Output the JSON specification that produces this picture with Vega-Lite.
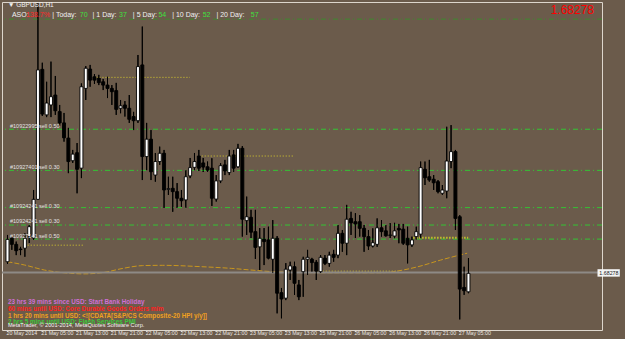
{
"$schema":"https://vega.github.io/schema/vega-lite/v6.json",
"width":600,"height":328,
"autosize":{"type":"none"},
"padding":{"left":2,"top":2,"right":23,"bottom":9},
"background":"#6b5b4b",
"config":{"view":{"stroke":"#ddd6cc","strokeWidth":1,"fill":"#6b5b4b"},"text":{"font":"Liberation Sans"}},
"datasets":{
"candles":[
{"n":1,"o":1.68317,"h":1.68414,"l":1.68309,"c":1.68398},
{"n":2,"o":1.68402,"h":1.68410,"l":1.68360,"c":1.68380},
{"n":3,"o":1.68380,"h":1.68390,"l":1.68341,"c":1.68357},
{"n":4,"o":1.68363,"h":1.68371,"l":1.68341,"c":1.68361},
{"n":5,"o":1.68366,"h":1.68420,"l":1.68335,"c":1.68402},
{"n":6,"o":1.68408,"h":1.68450,"l":1.68385,"c":1.68444},
{"n":7,"o":1.68403,"h":1.68577,"l":1.68396,"c":1.68543},
{"n":8,"o":1.68543,"h":1.69254,"l":1.68541,"c":1.69012},
{"n":9,"o":1.69014,"h":1.69038,"l":1.68845,"c":1.68852},
{"n":10,"o":1.68849,"h":1.68969,"l":1.68841,"c":1.68892},
{"n":11,"o":1.68885,"h":1.69042,"l":1.68841,"c":1.68915},
{"n":12,"o":1.68921,"h":1.68990,"l":1.68849,"c":1.68864},
{"n":13,"o":1.68861,"h":1.68885,"l":1.68809,"c":1.68820},
{"n":14,"o":1.68820,"h":1.68856,"l":1.68752,"c":1.68766},
{"n":15,"o":1.68765,"h":1.68802,"l":1.68638,"c":1.68680},
{"n":16,"o":1.68683,"h":1.68722,"l":1.68675,"c":1.68707},
{"n":17,"o":1.68712,"h":1.68747,"l":1.68565,"c":1.68652},
{"n":18,"o":1.68656,"h":1.68963,"l":1.68620,"c":1.68951},
{"n":19,"o":1.68945,"h":1.69026,"l":1.68903,"c":1.69018},
{"n":20,"o":1.69015,"h":1.69030,"l":1.68951,"c":1.68975},
{"n":21,"o":1.68987,"h":1.68997,"l":1.68961,"c":1.68975},
{"n":22,"o":1.68982,"h":1.68994,"l":1.68957,"c":1.68966},
{"n":23,"o":1.68969,"h":1.68979,"l":1.68939,"c":1.68957},
{"n":24,"o":1.68957,"h":1.68987,"l":1.68910,"c":1.68945},
{"n":25,"o":1.68945,"h":1.68957,"l":1.68885,"c":1.68933},
{"n":26,"o":1.68937,"h":1.68965,"l":1.68849,"c":1.68869},
{"n":27,"o":1.68873,"h":1.68903,"l":1.68855,"c":1.68882},
{"n":28,"o":1.68885,"h":1.68899,"l":1.68843,"c":1.68873},
{"n":29,"o":1.68873,"h":1.68921,"l":1.68820,"c":1.68833},
{"n":30,"o":1.68843,"h":1.68860,"l":1.68794,"c":1.68828},
{"n":31,"o":1.68828,"h":1.69066,"l":1.68820,"c":1.69024},
{"n":32,"o":1.69030,"h":1.69169,"l":1.68613,"c":1.68698},
{"n":33,"o":1.68698,"h":1.68820,"l":1.68649,"c":1.68761},
{"n":34,"o":1.68761,"h":1.68794,"l":1.68613,"c":1.68643},
{"n":35,"o":1.68631,"h":1.68711,"l":1.68607,"c":1.68680},
{"n":36,"o":1.68680,"h":1.68734,"l":1.68668,"c":1.68710},
{"n":37,"o":1.68710,"h":1.68722,"l":1.68512,"c":1.68577},
{"n":38,"o":1.68579,"h":1.68625,"l":1.68559,"c":1.68582},
{"n":39,"o":1.68583,"h":1.68625,"l":1.68498,"c":1.68571},
{"n":40,"o":1.68571,"h":1.68602,"l":1.68512,"c":1.68547},
{"n":41,"o":1.68547,"h":1.68577,"l":1.68516,"c":1.68538},
{"n":42,"o":1.68541,"h":1.68649,"l":1.68512,"c":1.68625},
{"n":43,"o":1.68628,"h":1.68693,"l":1.68620,"c":1.68658},
{"n":44,"o":1.68659,"h":1.68711,"l":1.68649,"c":1.68680},
{"n":45,"o":1.68700,"h":1.68722,"l":1.68646,"c":1.68656},
{"n":46,"o":1.68675,"h":1.68693,"l":1.68642,"c":1.68660},
{"n":47,"o":1.68661,"h":1.68680,"l":1.68643,"c":1.68649},
{"n":48,"o":1.68656,"h":1.68692,"l":1.68519,"c":1.68547},
{"n":49,"o":1.68544,"h":1.68631,"l":1.68535,"c":1.68610},
{"n":50,"o":1.68610,"h":1.68674,"l":1.68602,"c":1.68665},
{"n":51,"o":1.68668,"h":1.68686,"l":1.68631,"c":1.68646},
{"n":52,"o":1.68640,"h":1.68722,"l":1.68631,"c":1.68700},
{"n":53,"o":1.68704,"h":1.68722,"l":1.68643,"c":1.68656},
{"n":54,"o":1.68661,"h":1.68744,"l":1.68657,"c":1.68728},
{"n":55,"o":1.68728,"h":1.68736,"l":1.68408,"c":1.68471},
{"n":56,"o":1.68466,"h":1.68553,"l":1.68414,"c":1.68480},
{"n":57,"o":1.68478,"h":1.68505,"l":1.68403,"c":1.68424},
{"n":58,"o":1.68426,"h":1.68505,"l":1.68327,"c":1.68369},
{"n":59,"o":1.68371,"h":1.68439,"l":1.68287,"c":1.68402},
{"n":60,"o":1.68399,"h":1.68439,"l":1.68305,"c":1.68390},
{"n":61,"o":1.68396,"h":1.68444,"l":1.68326,"c":1.68330},
{"n":62,"o":1.68326,"h":1.68468,"l":1.68276,"c":1.68402},
{"n":63,"o":1.68402,"h":1.68410,"l":1.68130,"c":1.68203},
{"n":64,"o":1.68205,"h":1.68222,"l":1.68112,"c":1.68182},
{"n":65,"o":1.68185,"h":1.68312,"l":1.68178,"c":1.68290},
{"n":66,"o":1.68287,"h":1.68317,"l":1.68251,"c":1.68302},
{"n":67,"o":1.68299,"h":1.68317,"l":1.68197,"c":1.68239},
{"n":68,"o":1.68233,"h":1.68251,"l":1.68178,"c":1.68190},
{"n":69,"o":1.68281,"h":1.68335,"l":1.68190,"c":1.68326},
{"n":70,"o":1.68326,"h":1.68360,"l":1.68269,"c":1.68333},
{"n":71,"o":1.68326,"h":1.68331,"l":1.68281,"c":1.68314},
{"n":72,"o":1.68315,"h":1.68323,"l":1.68251,"c":1.68283},
{"n":73,"o":1.68281,"h":1.68341,"l":1.68276,"c":1.68333},
{"n":74,"o":1.68330,"h":1.68341,"l":1.68305,"c":1.68311},
{"n":75,"o":1.68311,"h":1.68353,"l":1.68299,"c":1.68341},
{"n":76,"o":1.68344,"h":1.68360,"l":1.68317,"c":1.68333},
{"n":77,"o":1.68341,"h":1.68450,"l":1.68330,"c":1.68420},
{"n":78,"o":1.68420,"h":1.68432,"l":1.68353,"c":1.68384},
{"n":79,"o":1.68384,"h":1.68523,"l":1.68341,"c":1.68471},
{"n":80,"o":1.68474,"h":1.68498,"l":1.68414,"c":1.68458},
{"n":81,"o":1.68462,"h":1.68493,"l":1.68403,"c":1.68454},
{"n":82,"o":1.68462,"h":1.68486,"l":1.68408,"c":1.68438},
{"n":83,"o":1.68438,"h":1.68450,"l":1.68353,"c":1.68408},
{"n":84,"o":1.68408,"h":1.68432,"l":1.68360,"c":1.68374},
{"n":85,"o":1.68374,"h":1.68438,"l":1.68369,"c":1.68386},
{"n":86,"o":1.68380,"h":1.68474,"l":1.68371,"c":1.68440},
{"n":87,"o":1.68440,"h":1.68468,"l":1.68408,"c":1.68426},
{"n":88,"o":1.68429,"h":1.68450,"l":1.68408,"c":1.68411},
{"n":89,"o":1.68412,"h":1.68457,"l":1.68403,"c":1.68414},
{"n":90,"o":1.68410,"h":1.68458,"l":1.68402,"c":1.68429},
{"n":91,"o":1.68438,"h":1.68454,"l":1.68384,"c":1.68432},
{"n":92,"o":1.68435,"h":1.68454,"l":1.68378,"c":1.68384},
{"n":93,"o":1.68402,"h":1.68444,"l":1.68311,"c":1.68378},
{"n":94,"o":1.68378,"h":1.68408,"l":1.68371,"c":1.68396},
{"n":95,"o":1.68408,"h":1.68444,"l":1.68398,"c":1.68426},
{"n":96,"o":1.68417,"h":1.68680,"l":1.68402,"c":1.68658},
{"n":97,"o":1.68652,"h":1.68680,"l":1.68595,"c":1.68621},
{"n":98,"o":1.68625,"h":1.68686,"l":1.68607,"c":1.68613},
{"n":99,"o":1.68616,"h":1.68631,"l":1.68577,"c":1.68603},
{"n":100,"o":1.68607,"h":1.68613,"l":1.68565,"c":1.68571},
{"n":101,"o":1.68565,"h":1.68595,"l":1.68559,"c":1.68577},
{"n":102,"o":1.68573,"h":1.68806,"l":1.68547,"c":1.68682},
{"n":103,"o":1.68680,"h":1.68812,"l":1.68656,"c":1.68716},
{"n":104,"o":1.68716,"h":1.68722,"l":1.68432,"c":1.68474},
{"n":105,"o":1.68480,"h":1.68486,"l":1.68108,"c":1.68218},
{"n":106,"o":1.68224,"h":1.68299,"l":1.68197,"c":1.68212},
{"n":107,"o":1.68208,"h":1.68330,"l":1.68203,"c":1.68275}
],
"levels":[{"price":1.68797},{"price":1.68648},{"price":1.68513},{"price":1.68450},{"price":1.68399}],
"orders":[
{"t":"#10922995 sell 0.50","price":1.68810},
{"t":"#10927401 sell 0.30","price":1.68659},
{"t":"#10924241 sell 0.30","price":1.68520},
{"t":"#10924241 sell 0.30","price":1.68464},
{"t":"#10927141 sell 0.50","price":1.68410}
],
"ticks":[
{"n":1,"lab":"20 May 2014"},{"n":9,"lab":"21 May 05:00"},{"n":17,"lab":"21 May 13:00"},{"n":25,"lab":"21 May 21:00"},{"n":33,"lab":"22 May 05:00"},
{"n":41,"lab":"22 May 13:00"},{"n":49,"lab":"22 May 21:00"},{"n":57,"lab":"23 May 05:00"},{"n":65,"lab":"23 May 13:00"},{"n":73,"lab":"25 May 21:00"},
{"n":81,"lab":"26 May 05:00"},{"n":89,"lab":"26 May 13:00"},{"n":97,"lab":"26 May 21:00"},{"n":105,"lab":"27 May 05:00"}
],
"segs":[{"a":21.46,"b":42.94,"price":1.68985},{"a":45.66,"b":66.91,"price":1.68700},{"a":4.96,"b":18.52,"price":1.68377},{"a":72.11,"b":90.88,"price":1.68283}],
"ma":[{"n":1,"v":1.68317},{"n":4.96,"v":1.68305},{"n":9.48,"v":1.68287},{"n":15.52,"v":1.68275},{"n":18.52,"v":1.68273},{"n":23.05,"v":1.68278},{"n":27.57,"v":1.68293},{"n":32.09,"v":1.68303},{"n":36.61,"v":1.68304},{"n":45.66,"v":1.68299},{"n":52.44,"v":1.68293},{"n":56.96,"v":1.68287},{"n":62.16,"v":1.68281},{"n":75.05,"v":1.68277},{"n":87.03,"v":1.68277},{"n":90.88,"v":1.68284},{"n":95.4,"v":1.68299},{"n":100.6,"v":1.68323},{"n":106.7,"v":1.68348}]
},
"layer":[
{"data":{"name":"candles"},"mark":{"type":"rule","color":"#000000","strokeWidth":1},
 "encoding":{
  "x":{"field":"n","type":"quantitative","scale":{"domain":[0.887,136.557],"nice":false,"zero":false},"axis":null},
  "y":{"field":"l","type":"quantitative","scale":{"domain":[1.680697,1.69258],"nice":false,"zero":false},
   "axis":{"orient":"right","values":[1.69195,1.69125,1.69055,1.68985,1.68915,1.68845,1.68775,1.68705,1.6864,1.6857,1.685,1.6843,1.6836,1.6822,1.6815,1.6808],
    "format":".5f","labelFontSize":5.3,"labelFont":"Liberation Sans","labelColor":"#ece8e4","tickSize":2,"tickColor":"#ddd6cc","labelPadding":1,
    "domain":false,"grid":false,"title":null,"labelOverlap":false,"labelFlush":false}},
  "y2":{"field":"h"}}},
{"data":{"values":[{"price":1.69196}]},"mark":{"type":"rule","color":"#3f8a2f","strokeWidth":1,"strokeDash":[5,3,1,3]},
 "encoding":{"y":{"field":"price","type":"quantitative","axis":null}}},
{"data":{"name":"levels"},"mark":{"type":"rule","color":"#34c434","strokeWidth":1,"strokeDash":[5,3,1,3]},
 "encoding":{"y":{"field":"price","type":"quantitative","axis":null}}},
{"data":{"name":"segs"},"mark":{"type":"rule","color":"#d9cc2c","strokeWidth":1,"strokeDash":[1,2]},
 "encoding":{"x":{"field":"a","type":"quantitative","axis":null},"x2":{"field":"b"},"y":{"field":"price","type":"quantitative","axis":null}}},
{"data":{"values":[{"a":94.27,"b":106.93,"price":1.68404}]},"mark":{"type":"rule","color":"#c6c22a","strokeWidth":2,"strokeDash":[1.5,1.5]},
 "encoding":{"x":{"field":"a","type":"quantitative","axis":null},"x2":{"field":"b"},"y":{"field":"price","type":"quantitative","axis":null}}},
{"data":{"name":"ma"},"mark":{"type":"line","color":"#c8961e","strokeWidth":1,"strokeDash":[5,2],"interpolate":"monotone"},
 "encoding":{"x":{"field":"n","type":"quantitative","axis":null},"y":{"field":"v","type":"quantitative","axis":null}}},
{"data":{"values":[{"price":1.68278}]},"mark":{"type":"rule","color":"#8e8a86","strokeWidth":2},
 "encoding":{"y":{"field":"price","type":"quantitative","axis":null}}},
{"data":{"name":"candles"},"mark":{"type":"rule","color":"#000000","strokeWidth":1},
 "encoding":{"x":{"field":"n","type":"quantitative","axis":null},"y":{"field":"l","type":"quantitative","axis":null},"y2":{"field":"h"}}},
{"data":{"name":"candles"},"mark":{"type":"bar","size":3,"stroke":"#000000","strokeWidth":0.9},
 "encoding":{"x":{"field":"n","type":"quantitative","axis":null},"y":{"field":"o","type":"quantitative","axis":null},"y2":{"field":"c"},
  "fill":{"condition":{"test":"datum.c > datum.o","value":"#ffffff"},"value":"#000000"}}},
{"data":{"name":"ticks"},"mark":{"type":"rule","clip":false,"color":"#ddd6cc","strokeWidth":1},
 "encoding":{"x":{"field":"n","type":"quantitative","axis":null},"y":{"datum":1.680697,"axis":null},"y2":{"datum":1.68062}}},
{"data":{"name":"ticks"},"mark":{"type":"text","clip":false,"align":"left","baseline":"middle","fontSize":5.3,"dx":-1,"color":"#ece8e4"},
 "encoding":{"x":{"field":"n","type":"quantitative","axis":null},"y":{"datum":1.68058,"axis":null},"text":{"field":"lab"}}},
{"data":{"name":"orders"},"mark":{"type":"text","align":"left","baseline":"middle","fontSize":5.5,"color":"#e4e4e4"},
 "encoding":{"x":{"datum":1.57,"axis":null},"y":{"field":"price","type":"quantitative","axis":null},"text":{"field":"t"}}},
{"data":{"values":[{"t":"▼ GBPUSD,H1"}]},"mark":{"type":"text","align":"left","baseline":"middle","fontSize":6.5,"color":"#f0f0f0"},
 "encoding":{"x":{"datum":1.1,"axis":null},"y":{"datum":1.69247,"axis":null},"text":{"field":"t"}}},
{"data":{"values":[{"t":"ASO:"}]},"mark":{"type":"text","align":"left","baseline":"middle","fontSize":7,"color":"#f0f0f0"},
 "encoding":{"x":{"datum":2.02,"axis":null},"y":{"datum":1.69212,"axis":null},"text":{"field":"t"}}},
{"data":{"values":[{"t":"138.7%"}]},"mark":{"type":"text","align":"left","baseline":"middle","fontSize":7,"color":"#ff2a2a"},
 "encoding":{"x":{"datum":5.3,"axis":null},"y":{"datum":1.69212,"axis":null},"text":{"field":"t"}}},
{"data":{"values":[{"t":"| Today:"}]},"mark":{"type":"text","align":"left","baseline":"middle","fontSize":7,"color":"#f0f0f0"},
 "encoding":{"x":{"datum":11.29,"axis":null},"y":{"datum":1.69212,"axis":null},"text":{"field":"t"}}},
{"data":{"values":[{"t":"70"}]},"mark":{"type":"text","align":"left","baseline":"middle","fontSize":7,"color":"#3ee03e"},
 "encoding":{"x":{"datum":17.62,"axis":null},"y":{"datum":1.69212,"axis":null},"text":{"field":"t"}}},
{"data":{"values":[{"t":"| 1 Day:"}]},"mark":{"type":"text","align":"left","baseline":"middle","fontSize":7,"color":"#f0f0f0"},
 "encoding":{"x":{"datum":20.56,"axis":null},"y":{"datum":1.69212,"axis":null},"text":{"field":"t"}}},
{"data":{"values":[{"t":"37"}]},"mark":{"type":"text","align":"left","baseline":"middle","fontSize":7,"color":"#3ee03e"},
 "encoding":{"x":{"datum":26.66,"axis":null},"y":{"datum":1.69212,"axis":null},"text":{"field":"t"}}},
{"data":{"values":[{"t":"| 5 Day:"}]},"mark":{"type":"text","align":"left","baseline":"middle","fontSize":7,"color":"#f0f0f0"},
 "encoding":{"x":{"datum":29.83,"axis":null},"y":{"datum":1.69212,"axis":null},"text":{"field":"t"}}},
{"data":{"values":[{"t":"54"}]},"mark":{"type":"text","align":"left","baseline":"middle","fontSize":7,"color":"#3ee03e"},
 "encoding":{"x":{"datum":35.71,"axis":null},"y":{"datum":1.69212,"axis":null},"text":{"field":"t"}}},
{"data":{"values":[{"t":"| 10 Day:"}]},"mark":{"type":"text","align":"left","baseline":"middle","fontSize":7,"color":"#f0f0f0"},
 "encoding":{"x":{"datum":38.87,"axis":null},"y":{"datum":1.69212,"axis":null},"text":{"field":"t"}}},
{"data":{"values":[{"t":"52"}]},"mark":{"type":"text","align":"left","baseline":"middle","fontSize":7,"color":"#3ee03e"},
 "encoding":{"x":{"datum":45.88,"axis":null},"y":{"datum":1.69212,"axis":null},"text":{"field":"t"}}},
{"data":{"values":[{"t":"| 20 Day:"}]},"mark":{"type":"text","align":"left","baseline":"middle","fontSize":7,"color":"#f0f0f0"},
 "encoding":{"x":{"datum":49.05,"axis":null},"y":{"datum":1.69212,"axis":null},"text":{"field":"t"}}},
{"data":{"values":[{"t":"57"}]},"mark":{"type":"text","align":"left","baseline":"middle","fontSize":7,"color":"#3ee03e"},
 "encoding":{"x":{"datum":56.96,"axis":null},"y":{"datum":1.69212,"axis":null},"text":{"field":"t"}}},
{"data":{"values":[{"t":"1.68278"}]},"mark":{"type":"text","align":"right","baseline":"middle","fontSize":12,"color":"#ff0000"},
 "encoding":{"x":{"datum":135.88,"axis":null},"y":{"datum":1.69229,"axis":null},"text":{"field":"t"}}},
{"data":{"values":[{"t":"23 hrs 39 mins since USD: Start Bank Holiday"}]},"mark":{"type":"text","align":"left","baseline":"middle","fontSize":6.3,"fontWeight":"bold","color":"#cf6fd6"},
 "encoding":{"x":{"datum":1.1,"axis":null},"y":{"datum":1.68170,"axis":null},"text":{"field":"t"}}},
{"data":{"values":[{"t":"60 mins until USD: Core Durable Goods Orders m/m"}]},"mark":{"type":"text","align":"left","baseline":"middle","fontSize":6.3,"fontWeight":"bold","color":"#ff2020"},
 "encoding":{"x":{"datum":1.1,"axis":null},"y":{"datum":1.68146,"axis":null},"text":{"field":"t"}}},
{"data":{"values":[{"t":"1 hrs 20 mins until USD: <![CDATA[S&P/CS Composite-20 HPI y/y]]"}]},"mark":{"type":"text","align":"left","baseline":"middle","fontSize":6.3,"fontWeight":"bold","color":"#f0a020"},
 "encoding":{"x":{"datum":1.1,"axis":null},"y":{"datum":1.68121,"axis":null},"text":{"field":"t"}}},
{"data":{"values":[{"t":"2 hrs 5 mins until USD: Flash Services PMI"}]},"mark":{"type":"text","align":"left","baseline":"middle","fontSize":6.3,"fontWeight":"bold","color":"#3cc83c"},
 "encoding":{"x":{"datum":1.1,"axis":null},"y":{"datum":1.68098,"axis":null},"text":{"field":"t"}}},
{"data":{"values":[{"t":"MetaTrader, © 2001-2014, MetaQuotes Software Corp."}]},"mark":{"type":"text","align":"left","baseline":"middle","fontSize":5.6,"color":"#f4f4f4"},
 "encoding":{"x":{"datum":1.1,"axis":null},"y":{"datum":1.68087,"axis":null},"text":{"field":"t"}}},
{"data":{"values":[{"t":"1.68278"}]},"mark":{"type":"rect","clip":false,"color":"#f4f4f4"},
 "encoding":{"x":{"datum":136.67,"axis":null},"x2":{"datum":141.8},"y":{"datum":1.68290,"axis":null},"y2":{"datum":1.68263}}},
{"data":{"values":[{"t":"1.68278"}]},"mark":{"type":"text","clip":false,"align":"left","baseline":"middle","fontSize":5.3,"color":"#202020"},
 "encoding":{"x":{"datum":137.1,"axis":null},"y":{"datum":1.68277,"axis":null},"text":{"field":"t"}}}
]
}
